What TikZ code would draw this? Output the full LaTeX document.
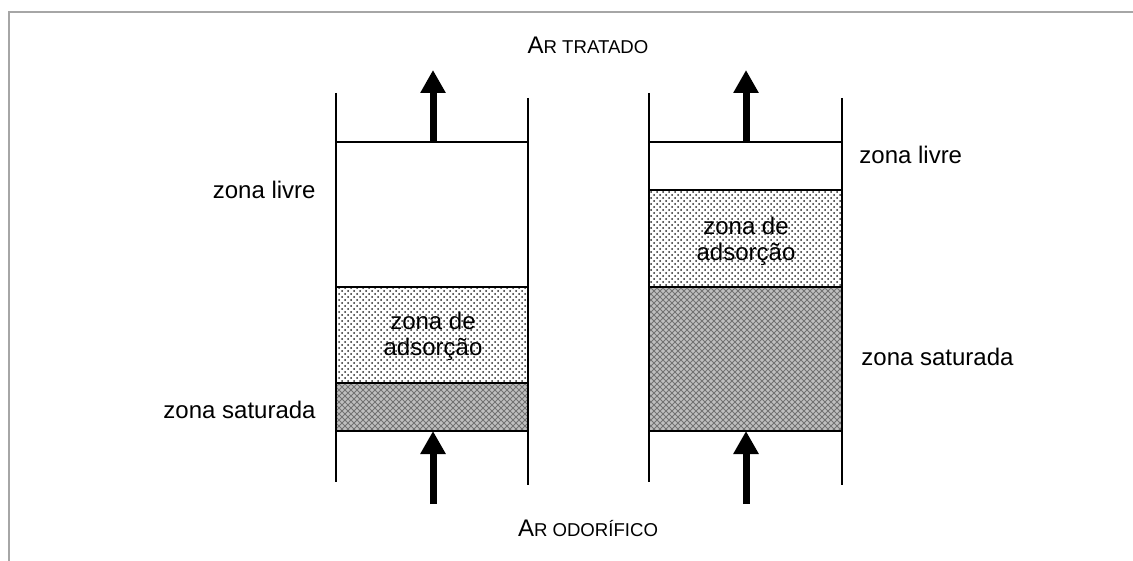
\documentclass[tikz,border=0pt]{standalone}
\usepackage{fontspec}
\setmainfont{Liberation Sans}
\usetikzlibrary{arrows.meta}
\usetikzlibrary{patterns}

\newcommand{\capsline}[2]{#1{\fontsize{9.3}{9.3}\selectfont #2}}

\begin{document}
\begin{tikzpicture}[x=0.5pt,y=-0.5pt,
  every node/.style={inner sep=0pt,font=\fontsize{12}{13}\selectfont},
  wall/.style={line width=1pt},
  rim/.style={line width=0.8pt},
  adsorb/.style={pattern=crosshatch dots,pattern color=black!85},
  satfill/.style={fill=gray!50},
  satdots/.style={pattern=north east lines,pattern color=black!55},
  satdots2/.style={pattern=north west lines,pattern color=black!55},
  flow/.style={line width=3.5pt,-{Triangle[width=12pt,length=11.5pt]}}]
\useasboundingbox (0,0) rectangle (1133,561);
\draw[line width=1pt,gray!70] (9,561) -- (9,12) -- (1133,12);

% left column
\fill[satfill] (336,383) rectangle (528,431);
\fill[satdots] (336,383) rectangle (528,431);
\fill[satdots2] (336,383) rectangle (528,431);
\fill[adsorb] (336,287) rectangle (528,383);
\draw[rim] (336,142) -- (528,142);
\draw[rim] (336,287) -- (528,287);
\draw[rim] (336,383) -- (528,383);
\draw[rim] (336,431) -- (528,431);
\draw[wall] (336,93) -- (336,482);
\draw[wall] (528,98) -- (528,485);
\node (ads1) at (433,336) [align=center]{zona de\\adsorção};
\node (free1) at (316,190) [anchor=east]{zona livre};
\node (sat1) at (316,410) [anchor=east]{zona saturada};

% right column
\fill[satfill] (649,287) rectangle (842,431);
\fill[satdots] (649,287) rectangle (842,431);
\fill[satdots2] (649,287) rectangle (842,431);
\fill[adsorb] (649,190) rectangle (842,287);
\draw[rim] (649,142) -- (842,142);
\draw[rim] (649,190) -- (842,190);
\draw[rim] (649,287) -- (842,287);
\draw[rim] (649,431) -- (842,431);
\draw[wall] (649,93) -- (649,482);
\draw[wall] (842,98) -- (842,485);
\node (ads2) at (746,241) [align=center]{zona de\\adsorção};
\node (free2) at (859,155) [anchor=west]{zona livre};
\node (sat2) at (861,357) [anchor=west]{zona saturada};

% air flow
\coordinate (in1) at (433,504);
\coordinate (bot1) at (433,431);
\coordinate (top1) at (433,142);
\coordinate (out1) at (433,70);
\coordinate (in2) at (746,504);
\coordinate (bot2) at (746,431);
\coordinate (top2) at (746,142);
\coordinate (out2) at (746,70);
\draw[flow] (in1) -- (bot1);
\draw[flow] (top1) -- (out1);
\draw[flow] (in2) -- (bot2);
\draw[flow] (top2) -- (out2);

\node (treated) at (588,45) {\capsline{A}{R TRATADO}};
\node (odour) at (588,528) {\capsline{A}{R ODORÍFICO}};
\end{tikzpicture}
\end{document}
